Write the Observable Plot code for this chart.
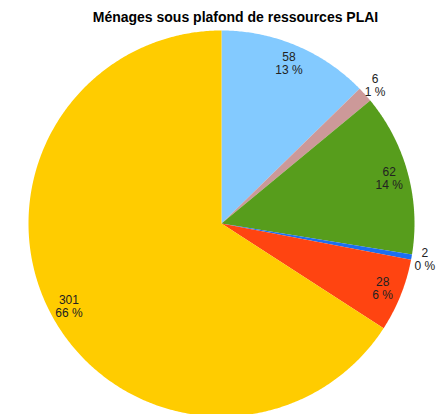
<!DOCTYPE html>
<html>
<head>
<meta charset="utf-8">
<script src="https://cdn.jsdelivr.net/npm/d3@7"></script>
<script src="https://cdn.jsdelivr.net/npm/@observablehq/plot@0.6"></script>
<style>
  html, body { margin: 0; padding: 0; background: #fff; }
</style>
</head>
<body>
<div id="chart"></div>
<script>
const title = "Ménages sous plafond de ressources PLAI";
const sliceNames = ["s1", "s2", "s3", "s4", "s5", "s6"];
const values = [58, 6, 62, 2, 28, 301];
const percentLabels = ["13 %", "1 %", "14 %", "0 %", "6 %", "66 %"];
const colors = ["#83caff", "#cc9999", "#579d1c", "#1c6ff0", "#ff4411", "#ffcc00"];

const total = d3.sum(values);
const polys = [];
const labels = [];
let acc = 0;
values.forEach((v, i) => {
  const a0 = acc / total * 2 * Math.PI;
  acc += v;
  const a1 = acc / total * 2 * Math.PI;
  polys.push({key: sliceNames[i], x: 0, y: 0, color: colors[i]});
  const n = Math.max(2, Math.ceil((a1 - a0) / (Math.PI / 360)));
  for (let k = 0; k <= n; k++) {
    const a = a0 + (a1 - a0) * k / n;
    polys.push({key: sliceNames[i], x: Math.sin(a), y: Math.cos(a), color: colors[i]});
  }
  const mid = (a0 + a1) / 2;
  const frac = v / total;
  const r = frac < 0.03 ? 1.07 : 0.9;
  labels.push({x: r * Math.sin(mid), y: r * Math.cos(mid), text: v + "\n" + percentLabels[i]});
});

const chart = Plot.plot({
  width: 436,
  height: 414,
  marginLeft: 28,
  marginRight: 22,
  marginTop: 30,
  marginBottom: 0,
  x: {domain: [-1, 1], axis: null},
  y: {domain: [1 - 384 / 193, 1], axis: null},
  color: {type: "identity"},
  style: {fontFamily: "'Liberation Sans', Arial, sans-serif", fontSize: "12px", background: "#fff", overflow: "visible"},
  marks: [
    Plot.line(polys, {x: "x", y: "y", z: "key", fill: "color", stroke: null, curve: "linear-closed"}),
    Plot.text(labels, {x: "x", y: "y", text: "text", fill: "#222", fontSize: 12, lineHeight: 1.08}),
    Plot.text([title], {frameAnchor: "top", dx: 14, dy: -13, fontWeight: "bold", fontSize: 14, fill: "#000", lineAnchor: "middle"})
  ]
});
document.getElementById("chart").appendChild(chart);
</script>
</body>
</html>
